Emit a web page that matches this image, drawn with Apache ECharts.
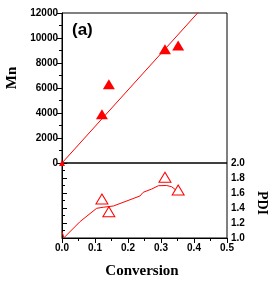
<!DOCTYPE html>
<html><head><meta charset="utf-8">
<script src="https://cdn.jsdelivr.net/npm/echarts@6/dist/echarts.min.js"></script>
<style>html,body{margin:0;padding:0;background:#fff}#c{width:274px;height:283px}</style>
</head><body><div id="c"></div>
<script>
const conversion = [0, 0.121, 0.142, 0.312, 0.352];
const mnValues = [0, 3900, 6300, 9100, 9400];
const pdiConversion = [0.121, 0.142, 0.312, 0.352];
const pdiValues = [1.52, 1.35, 1.81, 1.64];
const mnFitX = [0, 0.45];
const mnFitY = [0, 13140];
const pdiFitX = [0, 0.006, 0.055, 0.105, 0.125, 0.156, 0.206, 0.236, 0.246, 0.272, 0.292, 0.317, 0.332, 0.345];
const pdiFitY = [1.084, 1.004, 1.22, 1.396, 1.41, 1.427, 1.51, 1.56, 1.609, 1.653, 1.697, 1.70, 1.684, 1.64];
const mnTicks = [0, 2000, 4000, 6000, 8000, 10000, 12000];
const pdiTicks = [1.0, 1.2, 1.4, 1.6, 1.8, 2.0];
const xTicks = [0.0, 0.1, 0.2, 0.3, 0.4, 0.5];

const RED = '#ff0000';
const lab = {color:'#000', fontFamily:'Liberation Sans', fontWeight:'bold', fontSize:10};
const serif = 'Liberation Serif';
const chart = echarts.init(document.getElementById('c'), null, {renderer:'canvas'});
chart.setOption({
  animation:false,
  title:{text:'(a)', left:67, top:17, textStyle:{fontFamily:'Liberation Sans', fontWeight:'bold', fontSize:17, color:'#000'}},
  grid:[
    {left:62, right:47, top:13, height:150, show:true, borderColor:'#000', borderWidth:1, backgroundColor:'transparent'},
    {left:62, right:47, top:163, height:75, show:true, borderColor:'#000', borderWidth:1, backgroundColor:'transparent'}
  ],
  graphic:[
    {type:'text', x:12, y:78, rotation:Math.PI/2, style:{text:'Mn', fontFamily:serif, fontWeight:'bold', fontSize:15, fill:'#000', align:'center', verticalAlign:'middle'}},
    {type:'text', x:262, y:203, rotation:-Math.PI/2, style:{text:'PDI', fontFamily:serif, fontWeight:'bold', fontSize:14, fill:'#000', align:'center', verticalAlign:'middle'}},
    {type:'text', x:142, y:271, style:{text:'Conversion', fontFamily:serif, fontWeight:'bold', fontSize:15, fill:'#000', align:'center', verticalAlign:'middle'}}
  ],
  xAxis:[
    {gridIndex:0, type:'value', min:0, max:0.5, interval:0.1, axisLine:{show:false}, axisTick:{show:false}, axisLabel:{show:false}, splitLine:{show:false}},
    {gridIndex:1, type:'value', min:0, max:0.5, interval:0.1,
     axisLine:{show:true, onZero:false, lineStyle:{color:'#000', width:1}},
     axisTick:{show:true, length:5, lineStyle:{color:'#000'}},
     minorTick:{show:true, splitNumber:2, length:3, lineStyle:{color:'#000'}},
     axisLabel:Object.assign({margin:5, formatter:v=>xTicks.find(t=>Math.abs(t-v)<1e-9).toFixed(1)}, lab),
     splitLine:{show:false}}
  ],
  yAxis:[
    {gridIndex:0, type:'value', min:0, max:12000, interval:2000,
     axisLine:{show:true, lineStyle:{color:'#000'}},
     axisTick:{show:true, length:5, lineStyle:{color:'#000'}},
     minorTick:{show:true, splitNumber:2, length:3, lineStyle:{color:'#000'}},
     axisLabel:Object.assign({margin:4, formatter:v=>String(mnTicks.find(t=>t===v))}, lab),
     splitLine:{show:false}},
    {gridIndex:1, type:'value', position:'right', min:1.0, max:2.0, interval:0.2,
     axisLine:{show:true, lineStyle:{color:'#000'}},
     axisTick:{show:true, length:5, lineStyle:{color:'#000'}},
     minorTick:{show:true, splitNumber:2, length:3, lineStyle:{color:'#000'}},
     axisLabel:Object.assign({margin:4, formatter:v=>pdiTicks.find(t=>Math.abs(t-v)<1e-9).toFixed(1)}, lab),
     splitLine:{show:false}}
  ],
  series:[
    {type:'line', xAxisIndex:0, yAxisIndex:0, data:mnFitX.map((x,i)=>[x,mnFitY[i]]), showSymbol:false, symbol:'none', clip:true, lineStyle:{color:RED, width:1}},
    {type:'scatter', xAxisIndex:0, yAxisIndex:0, data:conversion.map((x,i)=>[x,mnValues[i]]), symbol:'triangle',
     symbolSize:v=>v[0]===0?[6,6]:[12,10], itemStyle:{color:RED, opacity:1}},
    {type:'line', xAxisIndex:1, yAxisIndex:1, data:pdiFitX.map((x,i)=>[x,pdiFitY[i]]), showSymbol:false, symbol:'none', clip:true, lineStyle:{color:RED, width:1}},
    {type:'scatter', xAxisIndex:1, yAxisIndex:1, data:pdiConversion.map((x,i)=>[x,pdiValues[i]]), symbol:'triangle',
     symbolSize:[12,10], itemStyle:{color:'#fff', borderColor:RED, borderWidth:1, opacity:1}}
  ]
});
</script></body></html>
